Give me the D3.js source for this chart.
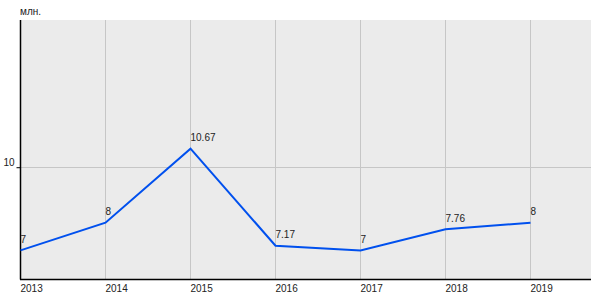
<!DOCTYPE html>
<html>
<head>
<meta charset="utf-8">
<script src="https://cdn.jsdelivr.net/npm/d3@7"></script>
<style>
  html, body { margin: 0; padding: 0; background: #ffffff; }
  svg { display: block; }
  text { font-family: "Liberation Sans", Arial, sans-serif; font-size: 10px; fill: #222; }
</style>
</head>
<body>
<div id="chart"></div>
<script>
const years = ["2013", "2014", "2015", "2016", "2017", "2018", "2019"];
const values = [7, 8, 10.67, 7.17, 7, 7.76, 8];
const valueLabels = ["7", "8", "10.67", "7.17", "7", "7.76", "8"];
const yTicks = [10];
const unitLabel = "млн.";

const W = 600, H = 300;
const plot = { left: 20, right: 591, top: 20, bottom: 279.5 };

const svg = d3.select("#chart").append("svg").attr("width", W).attr("height", H);

const x = d3.scalePoint().domain(years).range([20.5, 530.5]);
const y = d3.scaleLinear().domain([5.95, 15.31]).range([plot.bottom, plot.top]);

// background
svg.append("rect")
  .attr("x", plot.left).attr("y", plot.top)
  .attr("width", plot.right - plot.left).attr("height", plot.bottom - plot.top)
  .attr("fill", "#ebebeb");

// vertical gridlines
svg.append("g").selectAll("line").data(years.slice(1)).join("line")
  .attr("x1", d => Math.round(x(d)) - 0.5).attr("x2", d => Math.round(x(d)) - 0.5)
  .attr("y1", plot.top).attr("y2", plot.bottom)
  .attr("stroke", "#c6c6c6").attr("stroke-width", 1);

// horizontal gridlines
svg.append("g").selectAll("line").data(yTicks).join("line")
  .attr("x1", plot.left).attr("x2", plot.right)
  .attr("y1", d => Math.round(y(d)) + 0.5).attr("y2", d => Math.round(y(d)) + 0.5)
  .attr("stroke", "#c6c6c6").attr("stroke-width", 1);

// y axis
const yAxis = d3.axisLeft(y).tickValues(yTicks).tickSize(4).tickPadding(2).tickFormat(d3.format("d"));
const gy = svg.append("g").attr("transform", `translate(${plot.left + 0.5},0)`).call(yAxis);
gy.select(".domain").remove();
gy.selectAll(".tick line").attr("stroke", "#000");
gy.selectAll(".tick text").attr("font-family", null).attr("font-size", null)
  .attr("fill", "#222").attr("dy", "-0.05em").attr("y", -1.5);
svg.append("line")
  .attr("x1", plot.left + 0.5).attr("x2", plot.left + 0.5)
  .attr("y1", plot.top).attr("y2", plot.bottom)
  .attr("stroke", "#000").attr("stroke-width", 1.5);

// x axis
const xAxis = d3.axisBottom(x).tickSize(0).tickPadding(0);
const gx = svg.append("g").attr("transform", `translate(0,${plot.bottom})`).call(xAxis);
gx.select(".domain").remove();
gx.selectAll(".tick text").attr("font-family", null).attr("font-size", null)
  .attr("fill", "#222").attr("text-anchor", "start").attr("x", -0.5).attr("y", 12.5).attr("dy", null);
svg.append("line")
  .attr("x1", plot.left).attr("x2", plot.right)
  .attr("y1", plot.bottom).attr("y2", plot.bottom)
  .attr("stroke", "#000").attr("stroke-width", 1.5);

// unit label
svg.append("text").attr("x", 20).attr("y", 15).text(unitLabel);

// line
const data = years.map((yr, i) => ({ yr, v: values[i], label: valueLabels[i] }));
svg.append("path").datum(data)
  .attr("fill", "none").attr("stroke", "#0050ee").attr("stroke-width", 2)
  .attr("stroke-linejoin", "miter")
  .attr("d", d3.line().x(d => x(d.yr)).y(d => y(d.v)));

// value labels
svg.append("g").selectAll("text").data(data).join("text")
  .attr("x", d => x(d.yr))
  .attr("y", d => y(d.v) - 7.5)
  .text(d => d.label);
</script>
</body>
</html>
